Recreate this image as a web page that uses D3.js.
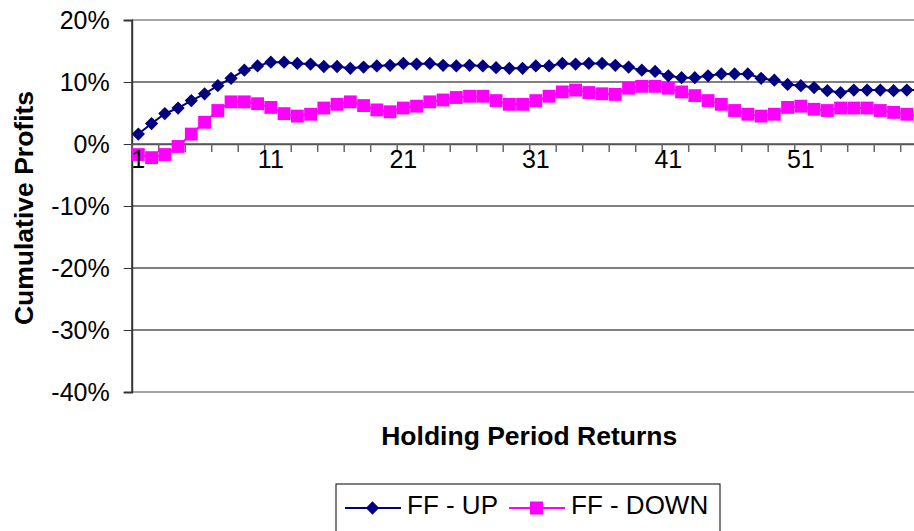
<!DOCTYPE html>
<meta charset="utf-8">
<style>
body { margin: 0; background: #fff; }
svg { display: block; font-family: "Liberation Sans", Arial, sans-serif; }
.axis text { font-size: 25px; fill: #000; font-family: "Liberation Sans", Arial, sans-serif; }
.title { font-size: 26.5px; font-weight: bold; fill: #000; }
</style>
<svg width="914" height="531"></svg>
<script src="https://d3js.org/d3.v7.min.js"></script>
<script>

// holding periods 1..60
var periods = d3.range(1, 61).map(String);

var ffUp = [1.6, 3.3, 4.9, 5.8, 7.0, 8.1, 9.4, 10.6, 11.9, 12.6,
            13.2, 13.2, 13.0, 12.9, 12.5, 12.5, 12.2, 12.4, 12.6, 12.7,
            13.0, 12.9, 13.0, 12.7, 12.6, 12.7, 12.6, 12.3, 12.2, 12.2,
            12.6, 12.6, 13.0, 12.9, 13.0, 13.0, 12.7, 12.4, 11.9, 11.7,
            11.0, 10.7, 10.7, 11.0, 11.3, 11.3, 11.3, 10.6, 10.3, 9.6,
            9.4, 9.1, 8.6, 8.3, 8.7, 8.7, 8.7, 8.6, 8.7, 8.7];

var ffDown = [-1.7, -2.2, -1.7, -0.4, 1.6, 3.5, 5.4, 6.8, 6.8, 6.5,
              5.9, 4.9, 4.5, 4.8, 5.8, 6.4, 6.8, 6.2, 5.5, 5.2,
              5.8, 6.1, 6.8, 7.1, 7.5, 7.7, 7.7, 7.0, 6.4, 6.4,
              7.0, 7.7, 8.4, 8.7, 8.3, 8.1, 8.0, 9.0, 9.3, 9.3,
              9.0, 8.4, 7.8, 7.0, 6.4, 5.4, 4.8, 4.5, 4.8, 5.9,
              6.1, 5.6, 5.4, 5.8, 5.8, 5.8, 5.4, 5.1, 4.8, 4.4];

var yTicks = [-40, -30, -20, -10, 0, 10, 20];
var xLabels = ["1", "11", "21", "31", "41", "51"];

var svg = d3.select("svg"),
    margin = {top: 20, left: 131.7},
    width = 795,
    height = 372,
    g = svg.append("g").attr("transform", "translate(" + margin.left + "," + margin.top + ")");

var x = d3.scaleBand().domain(periods).range([0, width]).padding(0),
    xb = d3.scaleLinear().domain([0, periods.length]).range([0, width]),
    y = d3.scaleLinear().domain([-40, 20]).range([height, 0]);

function cx(i) { return x(periods[i]) + x.bandwidth() / 2; }

// gridlines
g.append("g")
  .selectAll("line")
  .data(yTicks)
  .enter().append("line")
    .attr("x1", 0).attr("x2", width)
    .attr("y1", function(d) { return y(d); })
    .attr("y2", function(d) { return y(d); })
    .attr("stroke", function(d) { return (d === 20 || d === -40) ? "#888" : "#000"; })
    .attr("stroke-width", function(d) { return (d === 20 || d === -40) ? 1.5 : 1; });

// y axis
var yAxis = g.append("g")
    .attr("class", "axis")
    .call(d3.axisLeft(y).tickValues(yTicks).tickSize(8).tickPadding(14)
      .tickFormat(function(d) { return d + "%"; }));
yAxis.select(".domain").attr("stroke", "#333").attr("stroke-width", 2);
yAxis.selectAll(".tick line").attr("stroke", "#333");

// x axis: tick marks every 2 periods, labels every 10
var xTickAxis = g.append("g")
    .attr("transform", "translate(0," + y(0) + ")")
    .call(d3.axisBottom(xb).tickValues(d3.range(0, periods.length + 1, 2)).tickSize(8).tickFormat(""));
xTickAxis.select(".domain").attr("stroke", "#555").attr("stroke-width", 1.5);
xTickAxis.selectAll(".tick line").attr("stroke", "#666").attr("stroke-width", 1.5);

// series
var line = d3.line()
    .x(function(d, i) { return cx(i); })
    .y(function(d) { return y(d); });

g.append("path")
    .datum(ffUp)
    .attr("fill", "none")
    .attr("stroke", "#000080")
    .attr("stroke-width", 2)
    .attr("d", line);

g.append("path")
    .datum(ffDown)
    .attr("fill", "none")
    .attr("stroke", "#ff00ff")
    .attr("stroke-width", 2)
    .attr("d", line);

var diamond = d3.symbol().type(d3.symbolSquare).size(88),
    square = d3.symbol().type(d3.symbolSquare).size(165);

g.append("g").selectAll("path")
  .data(ffDown)
  .enter().append("path")
    .attr("d", square)
    .attr("fill", "#ff00ff")
    .attr("transform", function(d, i) { return "translate(" + cx(i) + "," + y(d) + ")"; });

g.append("g").selectAll("path")
  .data(ffUp)
  .enter().append("path")
    .attr("d", diamond)
    .attr("fill", "#000080")
    .attr("transform", function(d, i) { return "translate(" + cx(i) + "," + y(d) + ") rotate(45)"; });

var xAxis = g.append("g")
    .attr("class", "axis")
    .attr("transform", "translate(0," + y(0) + ")")
    .call(d3.axisBottom(x).tickValues(xLabels).tickSize(0).tickPadding(6));
xAxis.select(".domain").remove();

// titles
svg.append("text")
    .attr("class", "title")
    .attr("transform", "translate(33,208) rotate(-90)")
    .attr("text-anchor", "middle")
    .text("Cumulative Profits");

svg.append("text")
    .attr("class", "title")
    .attr("x", margin.left + width / 2)
    .attr("y", 445)
    .attr("text-anchor", "middle")
    .text("Holding Period Returns");

// legend
var legend = svg.append("g").attr("transform", "translate(336,484)");
legend.append("rect")
    .attr("width", 384).attr("height", 60)
    .attr("fill", "#fff").attr("stroke", "#000").attr("stroke-width", 1);

var items = [
  {name: "FF - UP", color: "#000080", sym: diamond, rot: 45, x: 9, tx: 71},
  {name: "FF - DOWN", color: "#ff00ff", sym: d3.symbol().type(d3.symbolSquare).size(170), rot: 0, x: 173, tx: 235}
];
var item = legend.selectAll(".item")
  .data(items)
  .enter().append("g")
    .attr("transform", function(d) { return "translate(" + d.x + ",24)"; });
item.append("line")
    .attr("x1", 0).attr("x2", 56)
    .attr("stroke", function(d) { return d.color; })
    .attr("stroke-width", 2);
item.append("path")
    .attr("d", function(d) { return d.sym(); })
    .attr("fill", function(d) { return d.color; })
    .attr("transform", function(d) { return "translate(27.5,0) rotate(" + d.rot + ")"; });
item.append("text")
    .attr("x", function(d) { return d.tx - d.x; })
    .attr("y", 6)
    .style("font-size", "26px")
    .text(function(d) { return d.name; });

</script>
